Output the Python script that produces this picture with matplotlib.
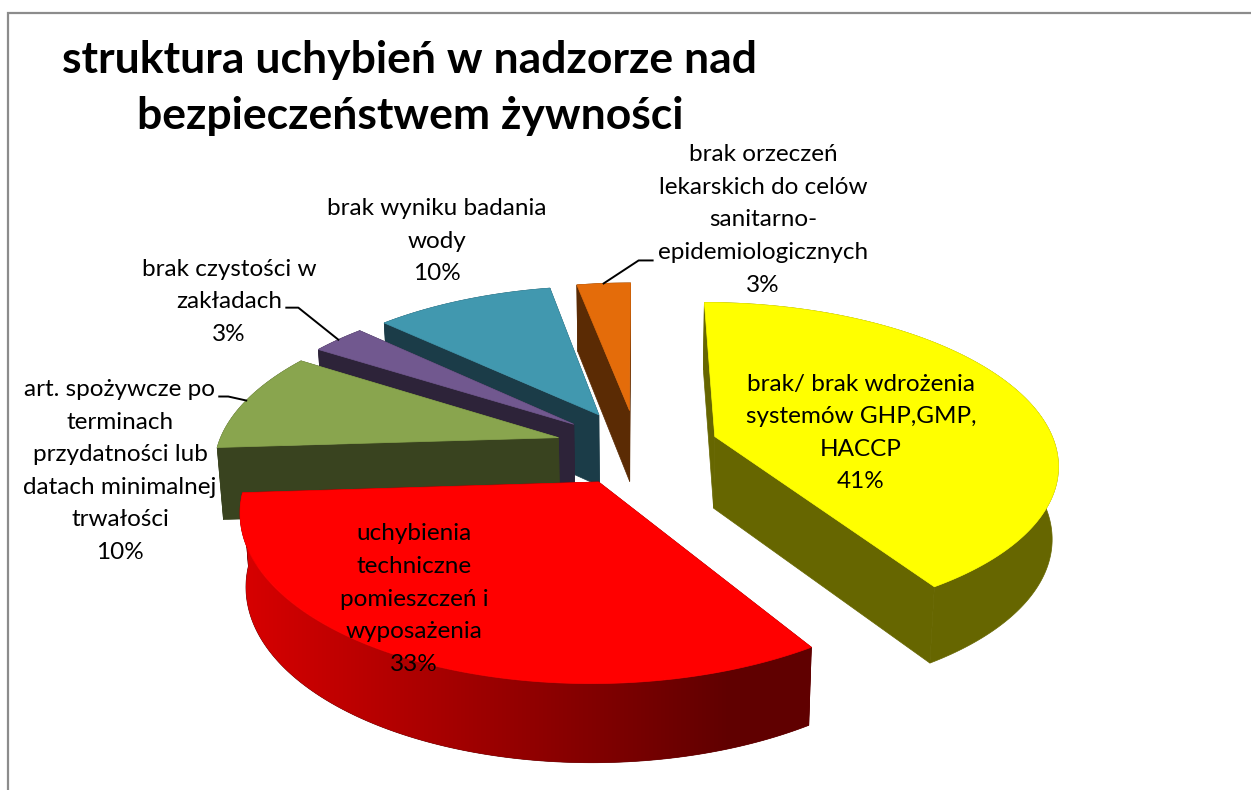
import numpy as np
import matplotlib
matplotlib.use('Agg')
import matplotlib.pyplot as plt
from matplotlib.colors import to_rgb
from matplotlib.patches import Rectangle

plt.rcParams['font.family'] = ['Lato', 'DejaVu Sans']

title = "struktura uchybień w nadzorze nad\nbezpieczeństwem żywności"

# slices, clockwise from 12 o'clock
labels = ["brak/ brak wdrożenia\nsystemów GHP,GMP,\nHACCP",
          "uchybienia\ntechniczne\npomieszczeń i\nwyposażenia",
          "art. spożywcze po\nterminach\nprzydatności lub\ndatach minimalnej\ntrwałości",
          "brak czystości w\nzakładach",
          "brak wyniku badania\nwody",
          "brak orzeczeń\nlekarskich do celów\nsanitarno-\nepidemiologicznych"]
values = [41, 33, 10, 3, 10, 3]

top_colors = ['#FFFF00', '#FF0000', '#89A54E', '#71588F', '#4198AF', '#E46C0A']
wall_colors = ['#666600', '#600000', '#39431F', '#2D2339', '#1B3C48', '#5B2B04']
rim_left = ['#666600', '#D80000', '#39431F', '#2D2339', '#1B3C48', '#5B2B04']
rim_right = ['#666600', '#600000', '#39431F', '#2D2339', '#1B3C48', '#5B2B04']

# label centres in pixels
label_x = [861, 414, 120, 229, 437, 763]
label_y = [433, 599, 471, 302, 241, 220]

# which slices get a leader line, and its elbow relative to the rim point
leaders = {2: (-18, -4, -27), 3: (-40, -32, -52), 5: (35, -23, 49)}

# fake 3d view
cx, cy = 637, 447
rx, ry = 341, 158
persp = 0.156
explode = 0.24
depth = 72

fig = plt.figure(figsize=(12.51, 7.9), dpi=100)
ax = fig.add_axes([0, 0, 1, 1])

ax.add_patch(Rectangle((7.5, 12.5), 1400, 1000, fc='white', ec='#8c8c8c', lw=1.6, zorder=0))


def project(u, v, bottom=False):
    s = 1 / (1 + persp * v)
    x = rx * u * s
    y = -ry * v * s
    if bottom:
        x = x * 0.985
        y = y + depth * s ** 0.45
    return cx + x, cy + y


edges = np.concatenate([[0], np.cumsum(values)]) / np.sum(values) * 2 * np.pi
mids = (edges[:-1] + edges[1:]) / 2

# back slices first
for rank, i in enumerate(np.argsort(-np.cos(mids))):
    z = 2 + rank
    ou, ov = explode * np.sin(mids[i]), explode * np.cos(mids[i])
    t = np.linspace(edges[i], edges[i + 1], 200)
    u, v = ou + np.sin(t), ov + np.cos(t)
    xt, yt = project(u, v)
    xb, yb = project(u, v, True)
    ax0, ay0 = project(ou, ov)
    bx0, by0 = project(ou, ov, True)

    # flat cut faces
    for j in [0, -1]:
        ax.fill([ax0, xt[j], xb[j], bx0], [ay0, yt[j], yb[j], by0],
                color=wall_colors[i], lw=0.5, zorder=z)
    # curved outer wall, darker to the right on the red one
    rim = ax.fill(np.r_[xt, xb[::-1]], np.r_[yt, yb[::-1]], color=rim_right[i], lw=0.5, zorder=z + 0.1)[0]
    if rim_left[i] != rim_right[i]:
        f = np.clip((np.arange(0, 1251) - 240) / 490, 0, 1)[:, np.newaxis]
        grad = (np.array(to_rgb(rim_left[i])) * (1 - f) + np.array(to_rgb(rim_right[i])) * f)[np.newaxis, :, :]
        im = ax.imshow(grad, extent=[0, 1251, 790, 0], aspect='auto', zorder=z + 0.2)
        im.set_clip_path(rim)
    ax.fill(np.r_[ax0, xt], np.r_[ay0, yt], color=top_colors[i], lw=0.5, zorder=z + 0.3)

    if i in leaders:
        lx, ly = project(ou + np.sin(mids[i]), ov + np.cos(mids[i]))
        dx1, dy1, dx2 = leaders[i]
        ax.plot([lx, lx + dx1, lx + dx2], [ly, ly + dy1, ly + dy1], color='black', lw=1.4, zorder=z + 0.4)

for i in range(len(values)):
    ax.text(label_x[i], label_y[i], labels[i] + "\n" + str(values[i]) + "%", ha='center', va='center',
            fontsize=17.5, linespacing=1.68, color='black', zorder=20)

ax.text(410, 88, title, ha='center', va='center', fontsize=32, fontweight='bold',
        linespacing=1.48, color='black', zorder=20)

ax.set_xlim(0, 1251)
ax.set_ylim(790, 0)
ax.axis('off')

fig.savefig('out.png', dpi=100)
